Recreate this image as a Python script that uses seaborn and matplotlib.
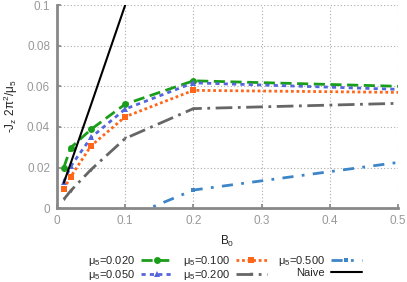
import numpy as np
import pandas as pd
import matplotlib
matplotlib.use("Agg")
import matplotlib.pyplot as plt
import seaborn as sns

# B0 sample points
b0 = [0.01, 0.02, 0.05, 0.1, 0.2, 0.5]

# -Jz 2pi^2 / mu5 for each mu5
mu_020 = [0.020, 0.0297, 0.0388, 0.0512, 0.0627, 0.0600]
mu_050 = [0.013, 0.0205, 0.0348, 0.0488, 0.0617, 0.0585]
mu_100 = [0.0094, 0.0154, 0.0307, 0.0450, 0.0580, 0.0570]
mu_200 = [0.0043, 0.0085, 0.0190, 0.0343, 0.0490, 0.0516]
mu_500 = [-0.030, -0.025, -0.015, -0.005, 0.0089, 0.0225]

naive_b0 = [0.01, 0.02, 0.05, 0.1, 0.2]
naive = [0.0125, 0.022, 0.051, 0.100, 0.198]

labels = ["μ$_5$=0.020", "μ$_5$=0.050", "μ$_5$=0.100", "μ$_5$=0.200", "μ$_5$=0.500", "Naive"]

sns.set_theme(style="ticks")
plt.rcParams['font.family'] = ['Liberation Sans', 'DejaVu Sans']
plt.rcParams['mathtext.fontset'] = 'custom'
plt.rcParams['mathtext.rm'] = 'Liberation Sans'
plt.rcParams['mathtext.it'] = 'Liberation Sans'

fig = plt.figure(figsize=(4.07, 2.82), dpi=100)
ax = fig.add_axes([0.140, 0.262, 0.838, 0.720])

styles = [
    (mu_020, "#1a9e1a", (0, (4, 2)), "o", 5),
    (mu_050, "#5566dd", (0, (1.5, 1.5)), "^", 5),
    (mu_100, "#ff6619", (0, (1, 1)), "s", 4),
    (mu_200, "#666666", (0, (6, 2, 1, 2)), "v", 2.5),
    (mu_500, "#3d85c8", (0, (4, 3, 1, 3)), "s", 2.5),
]

for (vals, color, ls, mk, ms), lab in zip(styles, labels):
    sns.lineplot(x=b0, y=vals, ax=ax, color=color, linestyle=ls, linewidth=2,
                 marker=mk, markersize=ms, markeredgewidth=0,
                 markevery=[0, 1, 2, 3, 4], label=lab)

sns.lineplot(x=naive_b0, y=naive, ax=ax, color="black", linewidth=1.5, label=labels[5])

ax.set_xlim(0, 0.5)
ax.set_ylim(0, 0.1)
ax.set_xticks([0, 0.1, 0.2, 0.3, 0.4, 0.5])
ax.set_xticklabels(["0", "0.1", "0.2", "0.3", "0.4", "0.5"])
ax.set_yticks([0, 0.02, 0.04, 0.06, 0.08, 0.1])
ax.set_yticklabels(["0", "0.02", "0.04", "0.06", "0.08", "0.1"])
ax.grid(True, linestyle=(0, (1, 2)), color="#aaaaaa", linewidth=0.8)

for side in ["top", "right"]:
    ax.spines[side].set_visible(False)
for side in ["left", "bottom"]:
    ax.spines[side].set_color("#888888")
    ax.spines[side].set_linewidth(2)
ax.tick_params(direction="in", length=3, color="#888888", labelcolor="#999999",
               labelsize=8.5, pad=5)

ax.set_xlabel("B$_\\mathregular{0}$", fontsize=8.5, color="#222222", labelpad=5)
ax.set_ylabel("-J$_\\mathregular{z}$ 2π$^\\mathregular{2}$/μ$_\\mathregular{5}$",
              fontsize=8.5, color="#222222", labelpad=5)

ax.legend(loc="center", bbox_to_anchor=(0.553, 0.05), bbox_transform=fig.transFigure,
          ncol=3, frameon=False, markerfirst=False, fontsize=8, handlelength=2.8,
          columnspacing=1.0, labelspacing=0.0, handletextpad=0.5)

fig.savefig("out.png", dpi=100)
